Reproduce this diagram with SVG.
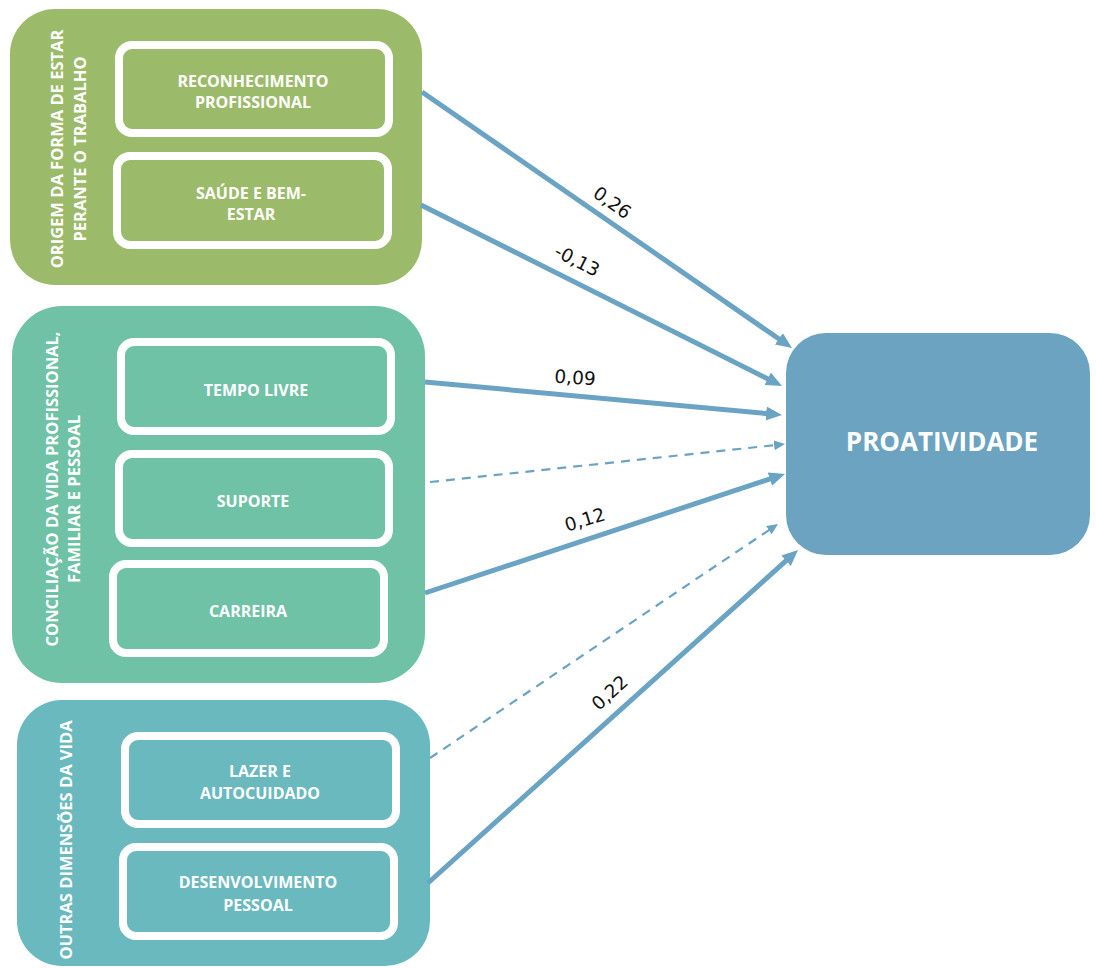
<svg xmlns="http://www.w3.org/2000/svg" width="1096" height="968" viewBox="0 0 1096 968">
<style>
.grp{stroke:none}
.inner{stroke:#ffffff;stroke-width:8}
.t{font-family:"Open Sans","Liberation Sans",sans-serif;font-weight:700;fill:#ffffff;text-anchor:middle}
.in{font-size:16px}
.ttl{font-size:16.5px}
.big{font-size:26px}
.lbl{font-family:"DejaVu Sans","Liberation Sans",sans-serif;font-size:18.5px;fill:#111111;text-anchor:middle}
.solid{stroke:#6aa3c3;stroke-width:5;fill:none}
.dash{stroke:#6aa3c3;stroke-width:2.2;fill:none;stroke-dasharray:9 7}
</style>
<defs>
<marker id="ah" markerUnits="userSpaceOnUse" markerWidth="18" markerHeight="16" refX="2" refY="7" orient="auto">
<path d="M0,0 L16,7 L0,14 z" fill="#6aa3c3"/>
</marker>
<marker id="ahs" markerUnits="userSpaceOnUse" markerWidth="13" markerHeight="12" refX="1" refY="5" orient="auto">
<path d="M0,0 L11,5 L0,10 z" fill="#6aa3c3"/>
</marker>
</defs>

<g id="g-origem">
<rect class="grp" x="10" y="9" width="412" height="276" rx="45" fill="#9bbb6a"/>
<text class="t ttl" transform="translate(63,149) rotate(-90)">ORIGEM DA FORMA DE ESTAR</text>
<text class="t ttl" transform="translate(86,149) rotate(-90)">PERANTE O TRABALHO</text>
</g>
<g id="n-reconhecimento">
<rect class="inner" x="119" y="45" width="270" height="88" rx="13" fill="#9bbb6a"/>
<text class="t in" x="253" y="87">RECONHECIMENTO</text>
<text class="t in" x="253" y="108">PROFISSIONAL</text>
</g>
<g id="n-saude">
<rect class="inner" x="117" y="156" width="271" height="89" rx="13" fill="#9bbb6a"/>
<text class="t in" x="251" y="199">SAÚDE E BEM-</text>
<text class="t in" x="251" y="220">ESTAR</text>
</g>

<g id="g-conciliacao">
<rect class="grp" x="12" y="306" width="413" height="377" rx="50" fill="#6fc2a6"/>
<text class="t ttl" transform="translate(58,489) rotate(-90)">CONCILIAÇÃO DA VIDA PROFISSIONAL,</text>
<text class="t ttl" transform="translate(80,499) rotate(-90)">FAMILIAR E PESSOAL</text>
</g>
<g id="n-tempo">
<rect class="inner" x="121" y="342" width="270" height="89" rx="13" fill="#6fc2a6"/>
<text class="t in" x="256" y="396">TEMPO LIVRE</text>
</g>
<g id="n-suporte">
<rect class="inner" x="119" y="454" width="270" height="89" rx="13" fill="#6fc2a6"/>
<text class="t in" x="253" y="507">SUPORTE</text>
</g>
<g id="n-carreira">
<rect class="inner" x="113" y="564" width="271" height="89" rx="13" fill="#6fc2a6"/>
<text class="t in" x="248" y="617">CARREIRA</text>
</g>

<g id="g-outras">
<rect class="grp" x="17" y="700" width="413" height="266" rx="45" fill="#69b9be"/>
<text class="t ttl" transform="translate(72,840) rotate(-90)">OUTRAS DIMENSÕES DA VIDA</text>
</g>
<g id="n-lazer">
<rect class="inner" x="125" y="736" width="271" height="88" rx="13" fill="#69b9be"/>
<text class="t in" x="260" y="777">LAZER E</text>
<text class="t in" x="260" y="799">AUTOCUIDADO</text>
</g>
<g id="n-desenvolvimento">
<rect class="inner" x="123" y="847" width="271" height="89" rx="13" fill="#69b9be"/>
<text class="t in" x="258" y="888">DESENVOLVIMENTO</text>
<text class="t in" x="258" y="911">PESSOAL</text>
</g>

<g id="n-proatividade">
<rect class="grp" x="786" y="333" width="304" height="222" rx="40" fill="#6ba3c1"/>
<text class="t big" x="942" y="451">PROATIVIDADE</text>
</g>

<g id="connectors">
<line class="solid" x1="422" y1="92" x2="780.5" y2="340" marker-end="url(#ah)"/>
<line class="solid" x1="421" y1="205" x2="769.5" y2="379.7" marker-end="url(#ah)"/>
<line class="solid" x1="425" y1="382" x2="768.1" y2="413.7" marker-end="url(#ah)"/>
<line class="dash" x1="430" y1="482" x2="775.1" y2="445.1" marker-end="url(#ahs)"/>
<line class="solid" x1="425" y1="593" x2="771.7" y2="478.4" marker-end="url(#ah)"/>
<line class="dash" x1="430" y1="758" x2="769.7" y2="529.6" marker-end="url(#ahs)"/>
<line class="solid" x1="428" y1="883" x2="787.6" y2="559.4" marker-end="url(#ah)"/>
<text class="lbl" transform="translate(612,203) rotate(35)" y="6">0,26</text>
<text class="lbl" transform="translate(577,261) rotate(27)" y="6">-0,13</text>
<text class="lbl" transform="translate(575,378) rotate(4)" y="6">0,09</text>
<text class="lbl" transform="translate(585,520) rotate(-17)" y="6">0,12</text>
<text class="lbl" transform="translate(610,693) rotate(-42)" y="6">0,22</text>
</g>
</svg>
